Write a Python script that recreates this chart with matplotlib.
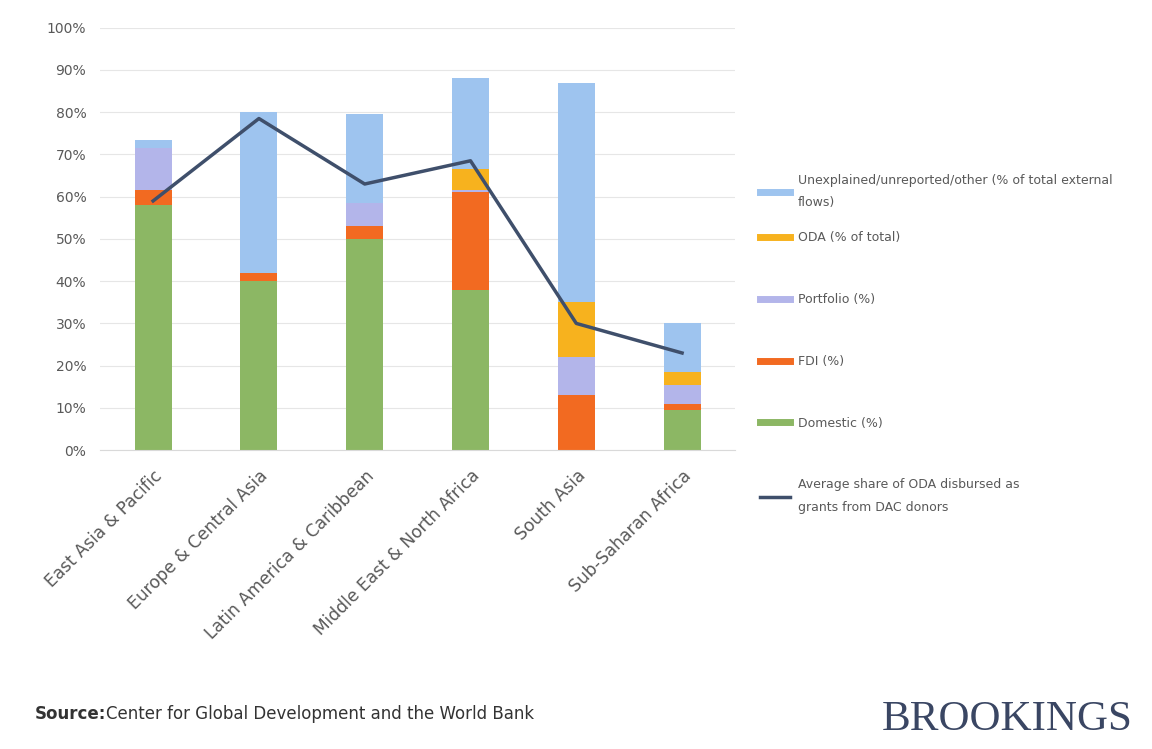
import matplotlib.pyplot as plt
import numpy as np
from matplotlib.lines import Line2D

# Data (shares, %)
regions = ["East Asia & Pacific", "Europe & Central Asia", "Latin America & Caribbean",
           "Middle East & North Africa", "South Asia", "Sub-Saharan Africa"]
domestic = [58, 40, 50, 38, 0, 9.5]
fc = [3.5, 2, 3, 23, 13, 1.5]
mystery = [10, 0, 5.5, 0.5, 9, 4.5]
pt = [0, 0, 0, 5, 13, 3]
unexplained = [2, 38, 21, 21.5, 52, 11.5]
avg_share = [59, 78.5, 63, 68.5, 30, 23]
yticks = [0, 10, 20, 30, 40, 50, 60, 70, 80, 90, 100]

series = [
    (domestic, "#8cb764", "Domestic (%)"),
    (fc, "#f26a21", "FDI (%)"),
    (mystery, "#b3b5ea", "Portfolio (%)"),
    (pt, "#f7b21e", "ODA (% of total)"),
    (unexplained, "#9ec4ef", "Unexplained/unreported/other (% of total external\nflows)"),
]
line_color = "#3f4f6b"
line_label = "Average share of ODA disbursed as\ngrants from DAC donors"

fig = plt.figure(figsize=(11.52, 7.49), dpi=100)
ax = fig.add_axes([0.087, 0.399, 0.551, 0.564])

x = np.arange(len(regions))
bottom = np.zeros(len(regions))
for vals, col, lab in series:
    ax.bar(x, vals, width=0.35, bottom=bottom, color=col, zorder=2)
    bottom += np.array(vals)

ax.plot(x, avg_share, color=line_color, lw=2.5, zorder=3)

ax.set_xlim(-0.5, len(regions) - 0.5)
ax.set_ylim(0, 100)
ax.set_yticks(yticks)
ax.set_yticklabels([f"{t}%" for t in yticks], color="#595959", fontsize=10)
ax.yaxis.grid(True, color="#e6e6e6", lw=0.8, zorder=0)
ax.set_axisbelow(True)
for s in ["top", "right", "left"]:
    ax.spines[s].set_visible(False)
ax.spines["bottom"].set_color("#d9d9d9")
ax.tick_params(axis="y", length=0, pad=10)
ax.tick_params(axis="x", length=0, pad=12)
ax.set_xticks(x)
ax.set_xticklabels(regions, rotation=45, ha="right", rotation_mode="anchor",
                   fontsize=12.3, color="#595959")

# legend (top series first, as in the original); first entry on its own
bar_handles = [Line2D([], [], color=col, lw=5) for _, col, _ in series][::-1]
bar_labels = [lab for _, _, lab in series][::-1]

leg_kw = dict(loc="upper left", frameon=False, fontsize=9, handlelength=2.4,
              handletextpad=0.6, borderpad=0, borderaxespad=0, labelcolor="#595959")
leg1 = fig.legend(bar_handles[:1], bar_labels[:1], bbox_to_anchor=(0.66, 0.768), **leg_kw)
plt.setp(leg1.get_texts(), linespacing=1.9)

h2 = bar_handles[1:] + [Line2D([], [], color=line_color, lw=2.5)]
l2 = bar_labels[1:] + [line_label]
leg2 = fig.legend(h2, l2, bbox_to_anchor=(0.66, 0.691), labelspacing=3.9, **leg_kw)
plt.setp(leg2.get_texts(), linespacing=2.0)

fig.text(0.03, 0.04, "Source:", fontsize=12, fontweight="bold", color="#333333")
fig.text(0.092, 0.04, "Center for Global Development and the World Bank",
         fontsize=12, color="#333333")
fig.text(0.983, 0.025, "BROOKINGS", fontsize=31, family="Liberation Serif",
         color="#3a4663", ha="right")

fig.savefig("out.png", dpi=100, facecolor="white")
